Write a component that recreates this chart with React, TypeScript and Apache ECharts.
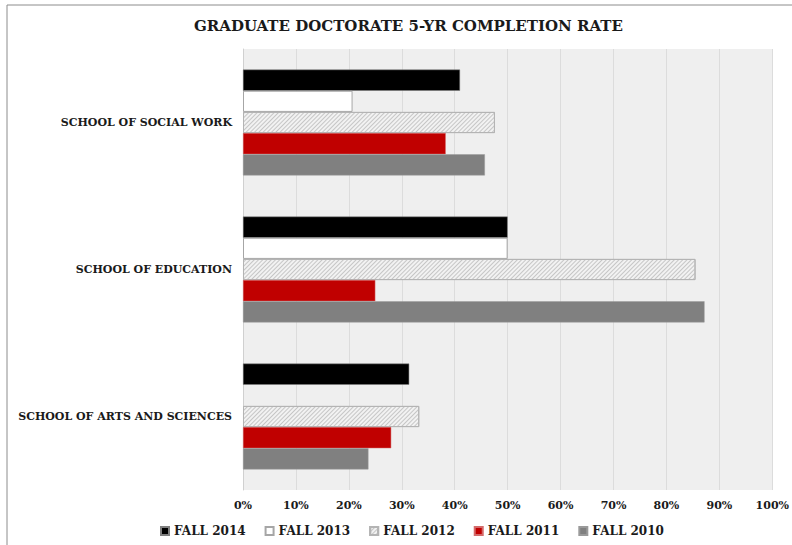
import React, { useEffect, useRef } from "react";
import * as echarts from "echarts";

const categories = ["SCHOOL OF SOCIAL WORK", "SCHOOL OF EDUCATION", "SCHOOL OF ARTS AND SCIENCES"];
const seriesNames = ["FALL 2014", "FALL 2013", "FALL 2012", "FALL 2011", "FALL 2010"];
const fall2014 = [0.41, 0.5, 0.314];
const fall2013 = [0.207, 0.5, null];
const fall2012 = [0.476, 0.855, 0.333];
const fall2011 = [0.383, 0.25, 0.28];
const fall2010 = [0.457, 0.872, 0.237];
const xTicks = [0, 0.1, 0.2, 0.3, 0.4, 0.5, 0.6, 0.7, 0.8, 0.9, 1];

const FONT = "DejaVu Serif";

export default function App() {
  const ref = useRef<HTMLDivElement>(null);
  useEffect(() => {
    if (!ref.current) return;
    const chart = echarts.init(ref.current, null, { renderer: "svg" });
    const values = [fall2014, fall2013, fall2012, fall2011, fall2010];
    const styles: any[] = [
      { color: "#000000", borderColor: "#7f7f7f", borderWidth: 0.5 },
      { color: "#ffffff", borderColor: "#a6a6a6", borderWidth: 1 },
      {
        color: "#f2f2f2",
        borderColor: "#b4b4b4",
        borderWidth: 1,
        decal: {
          symbol: "rect",
          color: "#c6c6c6",
          backgroundColor: "#f2f2f2",
          dashArrayX: [1, 0],
          dashArrayY: [1, 2],
          rotation: -Math.PI / 4,
          symbolSize: 1,
        },
      },
      { color: "#c00000", borderColor: "#d46a6a", borderWidth: 0.5 },
      { color: "#808080", borderColor: "#9a9a9a", borderWidth: 0.5 },
    ];
    chart.setOption({
      animation: false,
      backgroundColor: "#ffffff",
      title: {
        text: "GRADUATE DOCTORATE 5-YR COMPLETION RATE",
        left: 189,
        top: 13,
        textStyle: { fontFamily: FONT, fontWeight: "bold", fontSize: 15, color: "#1a1a1a" },
      },
      graphic: [
        {
          type: "rect",
          shape: { x: 7, y: 5, width: 900, height: 700 },
          style: { fill: "none", stroke: "#8c8c8c", lineWidth: 1 },
          silent: true,
        },
      ],
      legend: {
        data: seriesNames,
        bottom: 3,
        left: 155,
        itemWidth: 8,
        itemHeight: 8,
        itemGap: 19,
        icon: "rect",
        textStyle: { fontFamily: FONT, fontWeight: "bold", fontSize: 12, color: "#1a1a1a" },
      },
      grid: {
        left: 243,
        right: 17,
        top: 49,
        bottom: 55,
        show: true,
        backgroundColor: "#efefef",
        borderWidth: 0,
      },
      xAxis: {
        type: "value",
        min: 0,
        max: 1,
        interval: 0.1,
        axisLine: { show: false },
        axisTick: { show: false },
        splitLine: { show: true, lineStyle: { color: "#dcdcdc", width: 1 } },
        axisLabel: {
          fontFamily: FONT,
          fontWeight: "bold",
          fontSize: 11,
          color: "#1a1a1a",
          margin: 10,
          formatter: (v: number) => {
            const t = xTicks.find((x) => Math.abs(x - v) < 1e-6);
            return t === undefined ? "" : Math.round(t * 100) + "%";
          },
        },
      },
      yAxis: {
        type: "category",
        data: categories,
        inverse: true,
        axisLine: { show: true, lineStyle: { color: "#d0d0d0" } },
        axisTick: { show: false },
        axisLabel: { fontFamily: FONT, fontWeight: "bold", fontSize: 11, color: "#1a1a1a", margin: 11 },
      },
      series: seriesNames.map((name, i) => ({
        name,
        type: "bar",
        data: values[i],
        barCategoryGap: "28%",
        barGap: "0%",
        itemStyle: styles[i],
      })),
    });
    return () => chart.dispose();
  }, []);
  return (
    <div
      ref={ref}
      style={{ position: "fixed", left: 0, top: 0, width: 792, height: 545 }}
    />
  );
}
